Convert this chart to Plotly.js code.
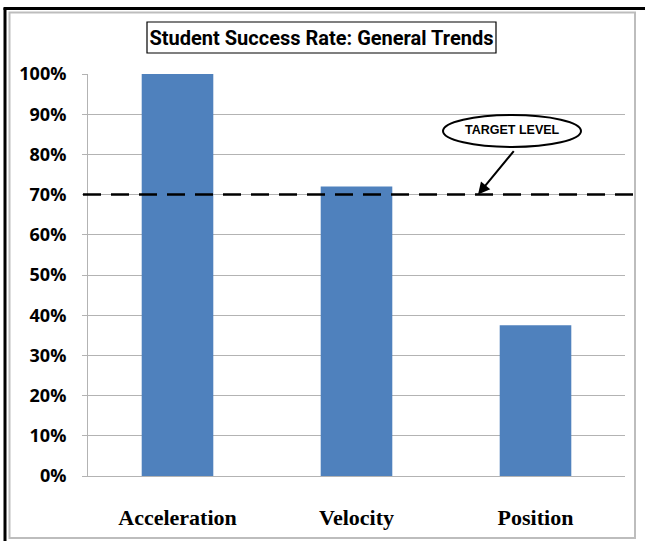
<!DOCTYPE html>
<html>
<head>
<meta charset="utf-8">
<script src="https://cdn.plot.ly/plotly-3.0.1.min.js"></script>
<style>
  html, body { margin: 0; padding: 0; background: #fff; }
  #chart { width: 645px; height: 541px; }
</style>
</head>
<body>
<div id="chart"></div>
<script>
// ---- data ----
const categories = ["Acceleration", "Velocity", "Position"];
const successRates = [1.00, 0.72, 0.375];
const targetLevel = 0.70;
const targetLabel = "TARGET LEVEL";
const yTickValues = [0, 0.1, 0.2, 0.3, 0.4, 0.5, 0.6, 0.7, 0.8, 0.9, 1.0];
const chartTitle = "Student Success Rate: General Trends";

// ---- layout helpers (pixel -> paper coords) ----
const W = 645, H = 541;
const M = { l: 88, r: 20, t: 74, b: 65 };
const PW = W - M.l - M.r, PH = H - M.t - M.b;
const px = x => (x - M.l) / PW;
const py = y => (H - M.b - y) / PH;

const trace = {
  type: "bar",
  x: categories,
  y: successRates,
  marker: { color: "#4F81BD", line: { width: 0 } },
  hoverinfo: "skip"
};

const layout = {
  width: W, height: H,
  margin: M,
  paper_bgcolor: "#ffffff",
  plot_bgcolor: "#ffffff",
  showlegend: false,
  bargap: 0.6,
  title: {
    text: chartTitle,
    font: { family: "Roboto, sans-serif", size: 20, color: "#000", weight: "bold" },
    x: 321.5 / W, xanchor: "center", xref: "container",
    y: 1 - 37.5 / H, yanchor: "middle", yref: "container"
  },
  xaxis: {
    type: "category",
    showgrid: false,
    showline: true, linecolor: "#B3B3B3", linewidth: 1,
    ticks: "outside", ticklen: 22, tickcolor: "rgba(0,0,0,0)",
    tickfont: { family: "Liberation Serif, Times New Roman, serif", size: 22, color: "#000", weight: "bold" },
    fixedrange: true
  },
  yaxis: {
    range: [0, 1],
    tickvals: yTickValues,
    tickformat: ".0%",
    showgrid: true, gridcolor: "#B3B3B3", gridwidth: 1,
    showline: true, linecolor: "#B3B3B3", linewidth: 1,
    ticks: "outside", ticklen: 5, tickcolor: "#B3B3B3",
    ticklabelstandoff: 12,
    zeroline: false,
    tickfont: { family: "Open Sans, sans-serif", size: 18, color: "#000", weight: "bold" },
    fixedrange: true
  },
  shapes: [
    // outer black frame (left and top)
    { type: "line", xref: "paper", yref: "paper", x0: px(5), x1: px(5), y0: py(8), y1: py(541), line: { color: "#000", width: 3 } },
    { type: "line", xref: "paper", yref: "paper", x0: px(3.5), x1: px(645), y0: py(8.5), y1: py(8.5), line: { color: "#000", width: 3 } },
    // inner gray frame
    { type: "rect", xref: "paper", yref: "paper", x0: px(9.5), x1: px(635), y0: py(538), y1: py(12.5), line: { color: "#BDBDBD", width: 2 } },
    // title box
    { type: "rect", xref: "paper", yref: "paper", x0: px(147), x1: px(496), y0: py(53), y1: py(22), line: { color: "#000", width: 1.2 } },
    // target dashed line
    { type: "line", xref: "paper", yref: "y", x0: px(83), x1: px(641), y0: targetLevel, y1: targetLevel,
      line: { color: "#000", width: 2.5, dash: "18px,10px" }, layer: "above" },
    // ellipse callout
    { type: "circle", xref: "paper", yref: "paper", x0: px(443), x1: px(581), y0: py(147), y1: py(115),
      line: { color: "#000", width: 2 }, fillcolor: "#fff", layer: "above" }
  ],
  annotations: [
    { xref: "paper", yref: "paper", x: px(512), y: py(130), xanchor: "center", yanchor: "middle",
      text: targetLabel, showarrow: false,
      font: { family: "Liberation Sans, Arial, sans-serif", size: 12.5, color: "#000", weight: "bold" } },
    { xref: "paper", yref: "y", x: px(478), y: targetLevel, ax: 37, ay: -45, text: "",
      showarrow: true, arrowhead: 2, arrowsize: 1.2, arrowwidth: 2, arrowcolor: "#000" }
  ]
};

Plotly.newPlot("chart", [trace], layout, { staticPlot: true, displayModeBar: false });
</script>
</body>
</html>
